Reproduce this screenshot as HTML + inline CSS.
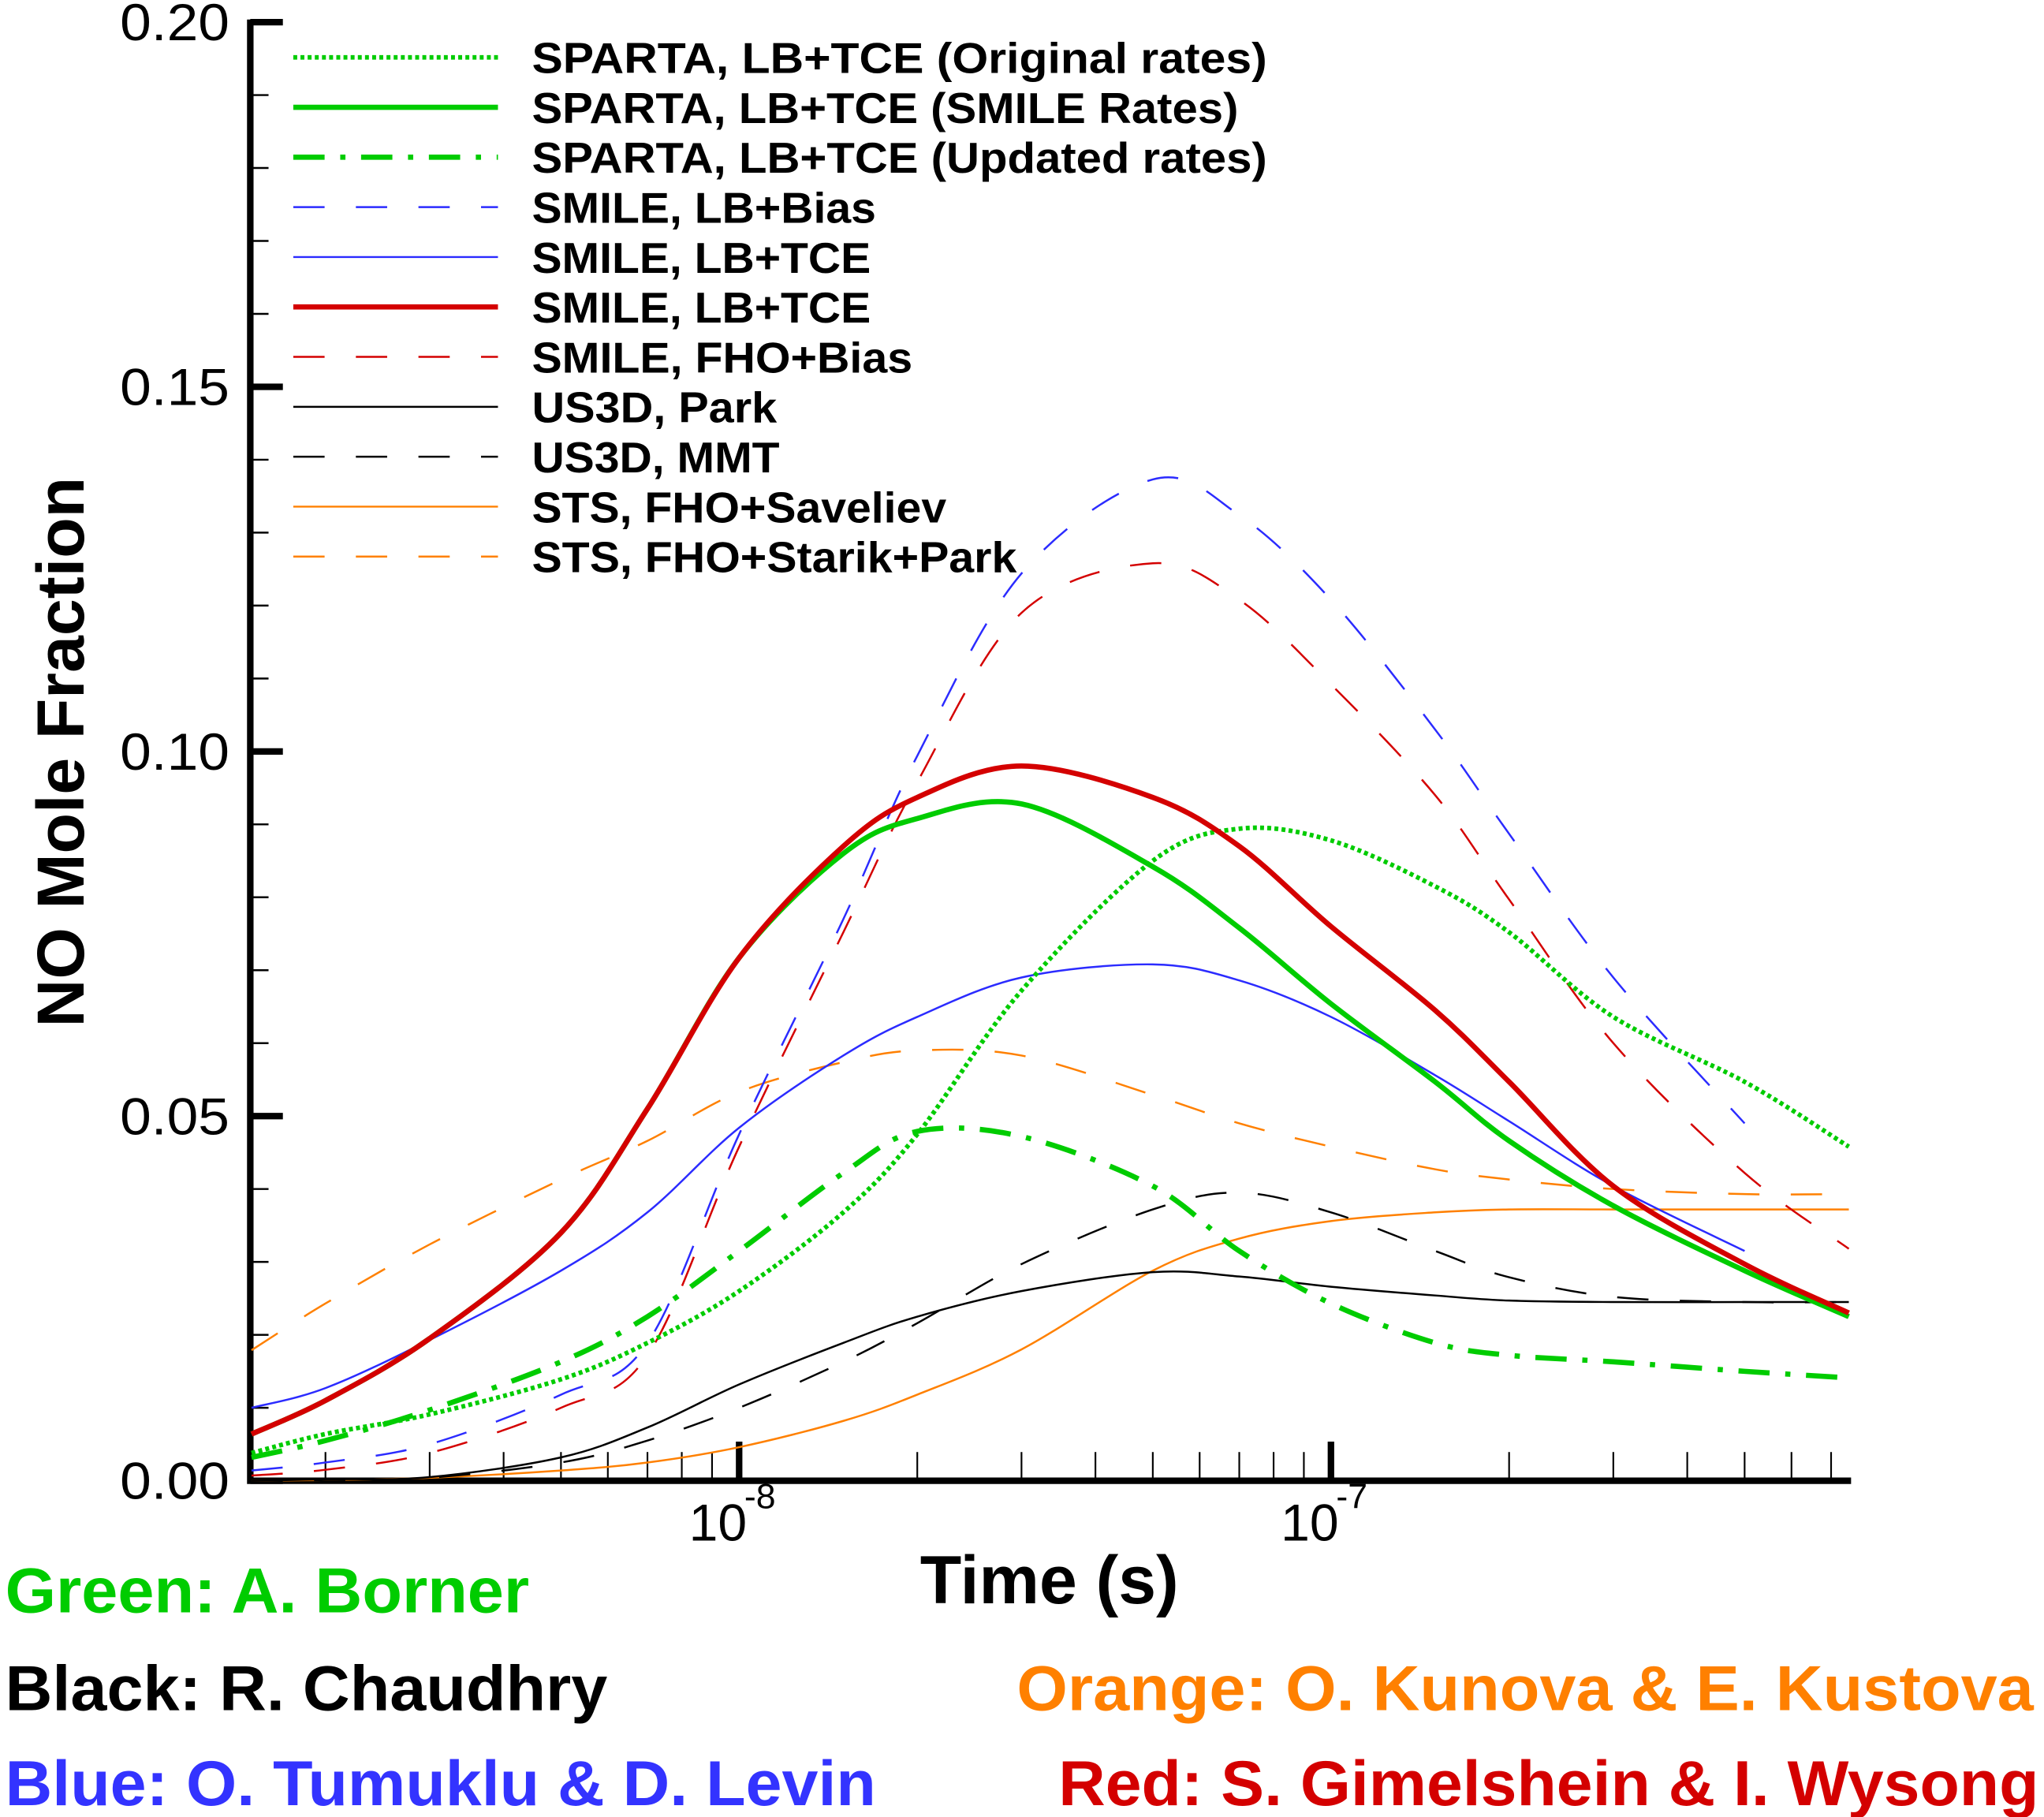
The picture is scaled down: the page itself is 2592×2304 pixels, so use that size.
<!DOCTYPE html>
<html><head><meta charset="utf-8"><style>
html,body{margin:0;padding:0;background:#fff;}
svg{display:block;}
text{font-family:"Liberation Sans",sans-serif;}
</style></head><body>
<svg id="chart" width="2592" height="2304" viewBox="0 0 1568 1394" preserveAspectRatio="none" xmlns="http://www.w3.org/2000/svg">
<g id="axes"></g>
<g id="series"></g>
<g id="legend"></g>
<text x="0" y="0" transform="translate(64,577) rotate(-90)" text-anchor="middle" font-size="51" font-weight="bold">NO Mole Fraction</text>
<text x="805" y="1230" text-anchor="middle" font-size="52" font-weight="bold">Time (s)</text>
<text x="4" y="1237" font-size="49" font-weight="bold" fill="#00cc00" textLength="402" lengthAdjust="spacingAndGlyphs">Green: A. Borner</text>
<text x="4" y="1312" font-size="49" font-weight="bold" fill="#000" textLength="462" lengthAdjust="spacingAndGlyphs">Black: R. Chaudhry</text>
<text x="4" y="1385" font-size="49" font-weight="bold" fill="#3333ff" textLength="668" lengthAdjust="spacingAndGlyphs">Blue: O. Tumuklu &amp; D. Levin</text>
<text x="780" y="1312" font-size="49" font-weight="bold" fill="#ff8000" textLength="780" lengthAdjust="spacingAndGlyphs">Orange: O. Kunova &amp; E. Kustova</text>
<text x="812" y="1385" font-size="49" font-weight="bold" fill="#d40000" textLength="752" lengthAdjust="spacingAndGlyphs">Red: S. Gimelshein &amp; I. Wysong</text>
</svg>
<script>
const times = [1.5e-9,2e-9,3e-9,5e-9,7e-9,1e-8,1.5e-8,2e-8,3e-8,5e-8,7e-8,1e-7,1.5e-7,2e-7,3e-7,5e-7,7.5e-7];
const greenDotted = [0.0038,0.0064,0.0091,0.0139,0.0189,0.026,0.0368,0.0475,0.0672,0.085,0.0894,0.0878,0.0815,0.0752,0.0636,0.0547,0.0458];
const greenSolid = [0.0064,0.011,0.0195,0.034,0.051,0.0717,0.086,0.0908,0.0928,0.0842,0.0758,0.0654,0.0547,0.0466,0.0377,0.0288,0.0225];
const greenDashDot = [0.0032,0.0055,0.0097,0.0163,0.0225,0.0315,0.0422,0.0479,0.0472,0.0404,0.0315,0.0243,0.0189,0.0172,0.0163,0.015,0.0141];
const blueDashed = [0.0014,0.0025,0.005,0.0118,0.0189,0.0475,0.077,0.0994,0.1244,0.1373,0.1324,0.1208,0.103,0.0887,0.069,0.049,null];
const blueSolid = [0.01,0.0127,0.0193,0.0288,0.0368,0.0484,0.0583,0.0636,0.069,0.0708,0.0686,0.0636,0.0556,0.0493,0.0404,0.0315,null];
const redSolid = [0.0064,0.011,0.0195,0.034,0.051,0.0717,0.087,0.0937,0.098,0.0937,0.087,0.076,0.0645,0.0547,0.0404,0.0297,0.023];
const redDashed = [0.0007,0.0015,0.0038,0.01,0.0172,0.0458,0.0752,0.0958,0.119,0.1258,0.1208,0.1092,0.094,0.0797,0.06,0.0422,0.0318];
const blackSolid = [0,0.0002,0.0005,0.0032,0.0073,0.0132,0.0189,0.0225,0.026,0.0286,0.028,0.0266,0.0254,0.0247,0.0245,0.0245,0.0245];
const blackDashed = [0,0.0001,0.0004,0.0025,0.0055,0.01,0.0163,0.0216,0.0297,0.0372,0.0395,0.0368,0.0315,0.0279,0.0252,0.0245,0.0245];
const orangeSolid = [0,0.0001,0.0004,0.0014,0.0025,0.0046,0.0082,0.0118,0.018,0.0288,0.0332,0.0356,0.0368,0.0372,0.0372,0.0372,0.0372];
const orangeDashed = [0.0179,0.0243,0.0324,0.0413,0.0466,0.0533,0.0574,0.059,0.0583,0.0529,0.049,0.0458,0.0427,0.0413,0.04,0.0393,0.0393];
const yTicks = [0,0.05,0.10,0.15,0.20];
const yTickLabels = ["0.00","0.05","0.10","0.15","0.20"];
const xMajor = [-8,-7];

const NS="http://www.w3.org/2000/svg";
const X0=192,X1=1420,Y0=1136;
function xs(t){return 567+(Math.log10(t)+8)*454;}
function ys(v){return Y0-v*5595;}
function mk(tag,attrs,parent){const e=document.createElementNS(NS,tag);for(const k in attrs)e.setAttribute(k,attrs[k]);parent.appendChild(e);return e;}

const axes=document.getElementById('axes');
let ax=mk('path',{d:`M${X0},15 V${Y0} H${X1}`,fill:'none',stroke:'#000','stroke-width':5},axes);


for(let v=0;v<=0.2001;v+=0.01){
  const major=Math.abs(v*20-Math.round(v*20))<1e-6;
  const t=mk('line',{x1:X0,x2:X0+(major?25:14),y1:ys(v),y2:ys(v),stroke:'#000','stroke-width':major?5:1.5},axes);
  
  
}
yTicks.forEach((v,i)=>{
  const t=mk('text',{x:176,y:ys(v)+14,'text-anchor':'end','font-size':40,'textLength':84,'lengthAdjust':'spacingAndGlyphs'},axes);
  t.textContent=yTickLabels[i];
  
  
});
for(let d=-9;d<=-7;d++){for(let m=1;m<10;m++){
  const t=m*Math.pow(10,d);const x=xs(t);
  if(x<X0+2||x>X1)continue;
  const e=mk('line',{x1:x,x2:x,y1:Y0,y2:Y0-(m==1?30:22),stroke:'#000','stroke-width':m==1?5:1.3},axes);
  
  
}}
xMajor.forEach(p=>{
  const x=xs(Math.pow(10,p));
  const t=mk('text',{x:x+6,y:1182,'text-anchor':'end','font-size':40},axes);
  t.textContent='10';
  
  
  const s=mk('text',{x:x+4,y:1157,'font-size':27},axes);
  s.textContent=String(p);
  
  
});

const seriesDefs=[
 {name:'SPARTA, LB+TCE (Original rates)',data:greenDotted,color:'#00cc00',w:3.5,dash:'3 2.5',id:'sparta-original'},
 {name:'SPARTA, LB+TCE (SMILE Rates)',data:greenSolid,color:'#00cc00',w:4,dash:'',id:'sparta-smile'},
 {name:'SPARTA, LB+TCE (Updated rates)',data:greenDashDot,color:'#00cc00',w:4,dash:'24 12 4 12',id:'sparta-updated'},
 {name:'SMILE, LB+Bias',data:blueDashed,color:'#2b2bff',w:1.5,dash:'24 24',id:'smile-lb-bias'},
 {name:'SMILE, LB+TCE',data:blueSolid,color:'#2b2bff',w:1.5,dash:'',id:'smile-lb-tce-blue'},
 {name:'SMILE, LB+TCE',data:redSolid,color:'#d40000',w:4,dash:'',id:'smile-lb-tce-red'},
 {name:'SMILE, FHO+Bias',data:redDashed,color:'#d40000',w:1.5,dash:'24 24',id:'smile-fho-bias'},
 {name:'US3D, Park',data:blackSolid,color:'#000',w:1.5,dash:'',id:'us3d-park'},
 {name:'US3D, MMT',data:blackDashed,color:'#000',w:1.5,dash:'24 24',id:'us3d-mmt'},
 {name:'STS, FHO+Saveliev',data:orangeSolid,color:'#ff8000',w:1.5,dash:'',id:'sts-saveliev'},
 {name:'STS, FHO+Starik+Park',data:orangeDashed,color:'#ff8000',w:1.5,dash:'24 24',id:'sts-starik-park'}
];
const sg=document.getElementById('series');
const drawOrder=[10,9,8,7,6,3,4,0,2,1,5];
function pathFor(data){
  const pts=[];times.forEach((t,i)=>{if(data[i]!=null)pts.push([xs(t),ys(data[i])]);});
  let d=`M${pts[0][0]},${pts[0][1]}`;
  for(let i=0;i<pts.length-1;i++){
    const p0=pts[Math.max(0,i-1)],p1=pts[i],p2=pts[i+1],p3=pts[Math.min(pts.length-1,i+2)];
    const c1=[p1[0]+(p2[0]-p0[0])/6,p1[1]+(p2[1]-p0[1])/6];
    const c2=[p2[0]-(p3[0]-p1[0])/6,p2[1]-(p3[1]-p1[1])/6];
    d+=` C${c1[0]},${c1[1]} ${c2[0]},${c2[1]} ${p2[0]},${p2[1]}`;
  }
  return d;
}
drawOrder.forEach(k=>{
  const s=seriesDefs[k];
  const p=mk('path',{d:pathFor(s.data),fill:'none',stroke:s.color,'stroke-width':s.w,'stroke-dasharray':s.dash,'stroke-linejoin':'round'},sg);
  
  
});
const legendWidths=[564,542,564,264,260,260,292,188,190,318,372];
const lg=document.getElementById('legend');
seriesDefs.forEach((s,i)=>{
  const y=44+i*38.3;
  const l=mk('line',{x1:225,x2:382,y1:y,y2:y,stroke:s.color,'stroke-width':s.w,'stroke-dasharray':s.dash},lg);
  
  
  const t=mk('text',{x:408,y:y+12,'font-size':33,'font-weight':'bold','textLength':legendWidths[i],'lengthAdjust':'spacingAndGlyphs'},lg);
  t.textContent=s.name;
  
  
});
</script>
</body></html>
